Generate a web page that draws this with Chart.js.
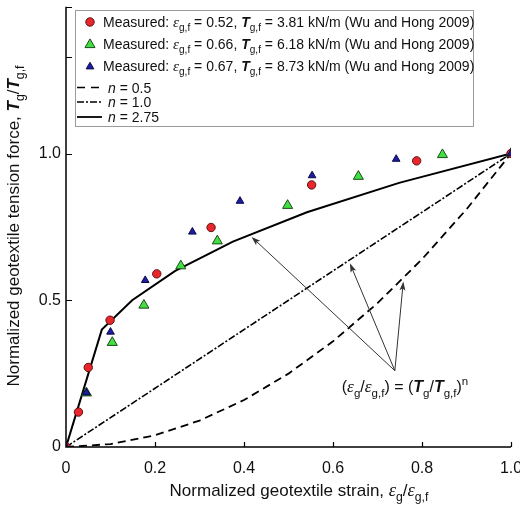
<!DOCTYPE html>
<html><head><meta charset="utf-8">
<script src="https://cdn.jsdelivr.net/npm/chart.js@4.4.1/dist/chart.umd.min.js"></script>
<style>html,body{margin:0;padding:0;background:#fff}#wrap{width:520px;height:507px;position:relative}</style>
</head><body><div id="wrap"><canvas id="c" width="520" height="507"></canvas></div>
<script>
// ---- data ----
const redX   = [0, 0.028, 0.050, 0.099, 0.204, 0.326, 0.552, 0.788, 1.0];
const redY   = [0, 0.119, 0.271, 0.432, 0.590, 0.748, 0.893, 0.975, 1.0];
const greenX = [0, 0.046, 0.104, 0.175, 0.258, 0.340, 0.498, 0.657, 0.846, 1.0];
const greenY = [0, 0.184, 0.356, 0.483, 0.617, 0.702, 0.823, 0.922, 0.996, 1.0];
const blueX  = [0, 0.046, 0.100, 0.178, 0.284, 0.391, 0.553, 0.742, 1.0];
const blueY  = [0, 0.185, 0.392, 0.568, 0.733, 0.838, 0.925, 0.981, 1.0];
const n05X   = [0, 0.1, 0.2, 0.3, 0.4, 0.5, 0.6, 0.7, 0.8, 0.9, 1.0];
const n05Y   = [0, 0.01, 0.04, 0.09, 0.16, 0.25, 0.36, 0.49, 0.64, 0.81, 1.0];
const n10X   = [0, 1.0];
const n10Y   = [0, 1.0];
const n275X  = [0, 0.0805, 0.1487, 0.2454, 0.375, 0.5414, 0.7485, 1.0];
const n275Y  = [0, 0.4, 0.5, 0.6, 0.7, 0.8, 0.9, 1.0];
const xTickValues = [0, 0.2, 0.4, 0.6, 0.8, 1.0];
const xTickLabels = ['0', '0.2', '0.4', '0.6', '0.8', '1.0'];
const yTickValues = [0, 0.5, 1.0];
const yTickLabels = ['0', '0.5', '1.0'];
const yTickMarks  = [0.5, 1.0, 1.33, 1.5];
const arrowTail   = [0.739, 0.260];
const arrowHeadsX = [0.417, 0.638, 0.758];
const arrowHeadsY = [0.716, 0.626, 0.564];
const legendNums  = [['0.52', '3.81'], ['0.66', '6.18'], ['0.67', '8.73']];
const legendN     = ['0.5', '1.0', '2.75'];

const FONT = '"Liberation Sans", Arial, sans-serif';
const SERIF = '"Liberation Serif", "Times New Roman", serif';
const pts = (xs, ys) => xs.map((x, i) => ({x: x, y: ys[i]}));

function fontOf(st, size) {
  if (st === 'i') return 'italic ' + size + 'px ' + FONT;
  if (st === 'bi') return 'italic bold ' + size + 'px ' + FONT;
  if (st === 'e') return 'italic ' + size + 'px ' + SERIF;
  return size + 'px ' + FONT;
}
function runSize(st, size) { return (st === 'sub' || st === 'sup') ? size * 0.72 : (st === 'e' ? size * 1.08 : size); }
function measureRuns(ctx, runs, size) {
  let w = 0;
  for (const [t, st] of runs) { ctx.font = fontOf(st, runSize(st, size)); w += ctx.measureText(t).width; }
  return w;
}
function drawRuns(ctx, runs, x, y, size, align) {
  const w = measureRuns(ctx, runs, size);
  let cx = align === 'center' ? x - w / 2 : x;
  ctx.textAlign = 'left'; ctx.textBaseline = 'alphabetic'; ctx.fillStyle = '#111';
  for (const [t, st] of runs) {
    ctx.font = fontOf(st, runSize(st, size));
    const dy = st === 'sub' ? size * 0.3 : (st === 'sup' ? -size * 0.42 : 0);
    ctx.fillText(t, cx, y + dy);
    cx += ctx.measureText(t).width;
  }
}
function drawMarker(ctx, type, x, y, r, fill, stroke) {
  ctx.save(); ctx.beginPath();
  if (type === 'circle') ctx.arc(x, y, r, 0, Math.PI * 2);
  else {
    let a = 0;
    ctx.moveTo(x + Math.sin(a) * r, y - Math.cos(a) * r);
    a += 2 * Math.PI / 3; ctx.lineTo(x + Math.sin(a) * r, y - Math.cos(a) * r);
    a += 2 * Math.PI / 3; ctx.lineTo(x + Math.sin(a) * r, y - Math.cos(a) * r);
    ctx.closePath();
  }
  ctx.fillStyle = fill; ctx.fill(); ctx.lineWidth = 1; ctx.strokeStyle = stroke; ctx.stroke();
  ctx.restore();
}

const RED = ['#e8262b', '#5a1010'], GREEN = ['#3fe03f', '#1d4a1d'], BLUE = ['#1c1ca8', '#0a0a40'];

const decor = {
  id: 'decor',
  afterDraw(chart) {
    const ctx = chart.ctx, xs = chart.scales.x, ys = chart.scales.y, a = chart.chartArea;
    ctx.save();
    // axes
    ctx.strokeStyle = '#000'; ctx.lineWidth = 1.5;
    ctx.beginPath();
    ctx.moveTo(a.left, a.top); ctx.lineTo(a.left, a.bottom); ctx.lineTo(a.right, a.bottom);
    ctx.stroke();
    ctx.lineWidth = 1.2;
    ctx.beginPath();
    for (const v of xTickValues) { if (v === 0) continue; const px = Math.round(xs.getPixelForValue(v)) + 0.5; ctx.moveTo(px, a.bottom); ctx.lineTo(px, a.bottom - 5); }
    for (const v of yTickMarks) { const py = Math.round(ys.getPixelForValue(v)) + 0.5; ctx.moveTo(a.left, py); ctx.lineTo(a.left + 6, py); }
    ctx.stroke();

    // arrows
    const tx = xs.getPixelForValue(arrowTail[0]), ty = ys.getPixelForValue(arrowTail[1]);
    ctx.strokeStyle = '#333'; ctx.fillStyle = '#333'; ctx.lineWidth = 1;
    for (let i = 0; i < arrowHeadsX.length; i++) {
      const hx = xs.getPixelForValue(arrowHeadsX[i]), hy = ys.getPixelForValue(arrowHeadsY[i]);
      const ang = Math.atan2(hy - ty, hx - tx);
      ctx.beginPath(); ctx.moveTo(tx, ty); ctx.lineTo(hx - Math.cos(ang) * 5, hy - Math.sin(ang) * 5); ctx.stroke();
      ctx.beginPath();
      ctx.moveTo(hx, hy);
      ctx.lineTo(hx - Math.cos(ang) * 9 + Math.sin(ang) * 3, hy - Math.sin(ang) * 9 - Math.cos(ang) * 3);
      ctx.lineTo(hx - Math.cos(ang) * 7, hy - Math.sin(ang) * 7);
      ctx.lineTo(hx - Math.cos(ang) * 9 - Math.sin(ang) * 3, hy - Math.sin(ang) * 9 + Math.cos(ang) * 3);
      ctx.closePath(); ctx.fill();
    }
    // annotation text
    drawRuns(ctx, [['(', 'r'], ['ε', 'e'], ['g', 'sub'], ['/', 'r'], ['ε', 'e'], ['g,f', 'sub'], [') = (', 'r'],
      ['T', 'bi'], ['g', 'sub'], ['/', 'r'], ['T', 'bi'], ['g,f', 'sub'], [')', 'r'], ['n', 'sup']], 405, 392, 16, 'center');

    // axis titles
    drawRuns(ctx, [['Normalized geotextile strain, ', 'r'], ['ε', 'e'], ['g', 'sub'], ['/', 'r'], ['ε', 'e'], ['g,f', 'sub']], 299, 496, 17, 'center');
    ctx.save(); ctx.translate(19, 226); ctx.rotate(-Math.PI / 2);
    drawRuns(ctx, [['Normalized geotextile tension force, ', 'r'], ['T', 'bi'], ['g', 'sub'], ['/', 'r'], ['T', 'bi'], ['g,f', 'sub']], 0, 0, 17, 'center');
    ctx.restore();

    // legend
    ctx.fillStyle = '#fff'; ctx.fillRect(75.5, 10.5, 398, 116);
    ctx.strokeStyle = '#9a9a9a'; ctx.lineWidth = 1; ctx.strokeRect(75.5, 10.5, 398, 116);
    const rows = [22, 43.5, 65.5];
    const mk = [['circle', 4.2, RED], ['triangle', 5.8, GREEN], ['triangle', 4.4, BLUE]];
    for (let i = 0; i < 3; i++) {
      const m = mk[i];
      drawMarker(ctx, m[0], 90, rows[i] + (m[0] === 'triangle' ? 1.2 : 0), m[1], m[2][0], m[2][1]);
      drawRuns(ctx, [['Measured: ', 'r'], ['ε', 'e'], ['g,f', 'sub'], [' = ' + legendNums[i][0] + ', ', 'r'], ['T', 'bi'], ['g,f', 'sub'],
        [' = ' + legendNums[i][1] + ' kN/m (Wu and Hong 2009)', 'r']], 103, rows[i] + 5, 14, 'left');
    }
    const lrows = [87.5, 102, 117];
    const dashes = [[8, 6], [7, 2, 2, 2], []];
    for (let i = 0; i < 3; i++) {
      ctx.strokeStyle = '#000'; ctx.lineWidth = i === 2 ? 1.8 : 1.6; ctx.setLineDash(dashes[i]);
      ctx.beginPath(); ctx.moveTo(77, lrows[i]); ctx.lineTo(102, lrows[i]); ctx.stroke();
      ctx.setLineDash([]);
      drawRuns(ctx, [['n', 'i'], [' = ' + legendN[i], 'r']], 108, lrows[i] + 5, 14, 'left');
    }
    ctx.restore();
  }
};

const ptStyle = (c, shape, r) => ({showLine: false, pointStyle: shape, pointRadius: r, pointBackgroundColor: c[0], pointBorderColor: c[1], pointBorderWidth: 1});
new Chart(document.getElementById('c'), {
  type: 'scatter',
  data: {
    datasets: [
      Object.assign({label: 'blue', data: pts(blueX, blueY)}, ptStyle(BLUE, 'triangle', 4.4)),
      Object.assign({label: 'red', data: pts(redX, redY)}, ptStyle(RED, 'circle', 4.2)),
      Object.assign({label: 'green', data: pts(greenX, greenY)}, ptStyle(GREEN, 'triangle', 5.8)),
      {label: 'n = 2.75', data: pts(n275X, n275Y), showLine: true, pointRadius: 0, borderColor: '#000', borderWidth: 2, tension: 0},
      {label: 'n = 1.0', data: pts(n10X, n10Y), showLine: true, pointRadius: 0, borderColor: '#000', borderWidth: 1.6, borderDash: [7, 2, 2, 2]},
      {label: 'n = 0.5', data: pts(n05X, n05Y), showLine: true, pointRadius: 0, borderColor: '#000', borderWidth: 1.8, borderDash: [8, 5]}
    ]
  },
  options: {
    responsive: false, animation: false, devicePixelRatio: 1,
    layout: {padding: {top: 3, right: 9, left: 0, bottom: 0}},
    plugins: {legend: {display: false}, tooltip: {enabled: false}},
    scales: {
      x: {
        type: 'linear', min: 0, max: 1,
        grid: {display: false, drawTicks: false}, border: {display: false},
        afterBuildTicks: s => { s.ticks = xTickValues.map(v => ({value: v})); },
        afterFit: s => { s.height = 60; s.paddingLeft = 0; s.paddingRight = 0; },
        ticks: {padding: 12, color: '#111', font: {family: FONT, size: 16},
          callback: v => { const i = xTickValues.findIndex(t => Math.abs(t - v) < 1e-6); return i >= 0 ? xTickLabels[i] : ''; }}
      },
      y: {
        type: 'linear', min: 0, max: 1.5,
        grid: {display: false, drawTicks: false}, border: {display: false},
        afterBuildTicks: s => { s.ticks = yTickValues.map(v => ({value: v})); },
        afterFit: s => { s.width = 66; s.paddingTop = 0; s.paddingBottom = 0; },
        ticks: {padding: 5, color: '#111', font: {family: FONT, size: 16},
          callback: v => { const i = yTickValues.findIndex(t => Math.abs(t - v) < 1e-6); return i >= 0 ? yTickLabels[i] : ''; }}
      }
    }
  },
  plugins: [decor]
});
</script></body></html>
